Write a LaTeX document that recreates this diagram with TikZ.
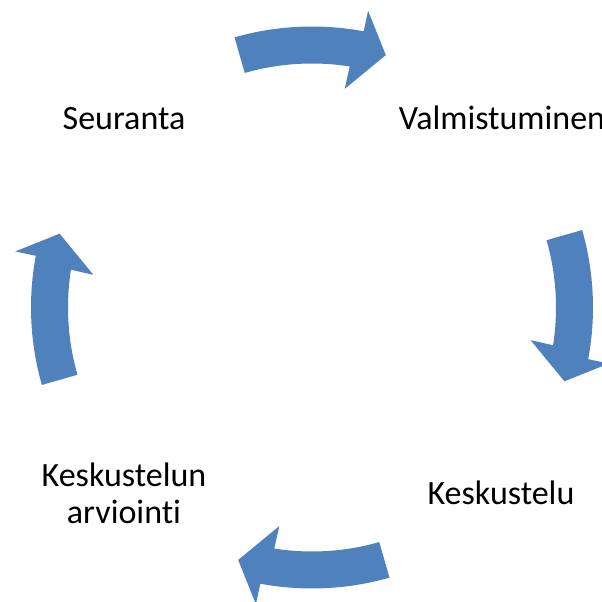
\documentclass[tikz,border=0pt]{standalone}
\usepackage{fontspec}
\setmainfont{Carlito}[Ligatures=NoCommon]
\usetikzlibrary{positioning}
\definecolor{Accent}{RGB}{79,129,189}

\begin{document}
\begin{tikzpicture}[x=1pt,y=1pt,
  lbl/.style={font=\fontsize{34}{37}\selectfont,align=center,anchor=base,inner sep=0pt},
  cyc/.style={fill=Accent}]
\useasboundingbox (0,0) rectangle (602,602);
\clip (0,0) rectangle (602,602);
\coordinate (mid) at (312,294.5);
\node[lbl] (seur) at (124,472) {Seuranta};
\node[lbl] (valm) at (502,472) {Valmistuminen};
\node[lbl] (kesk) at (501,97) {Keskustelu};
\node[lbl] (arvi) at (124,78) {Keskustelun\\arviointi};
\foreach \a in {90,0,-90,180}
  \fill[cyc,shift={(mid)}] (\a+16:281) arc[start angle=\a+16,end angle=\a-10.6,radius=281]
    -- (\a-10.7:302) -- (\a-16.3:263) -- (\a-8.5:221) -- (\a-8.9:244)
    arc[start angle=\a-8.9,end angle=\a+16,radius=244] -- cycle;
\end{tikzpicture}
\end{document}
